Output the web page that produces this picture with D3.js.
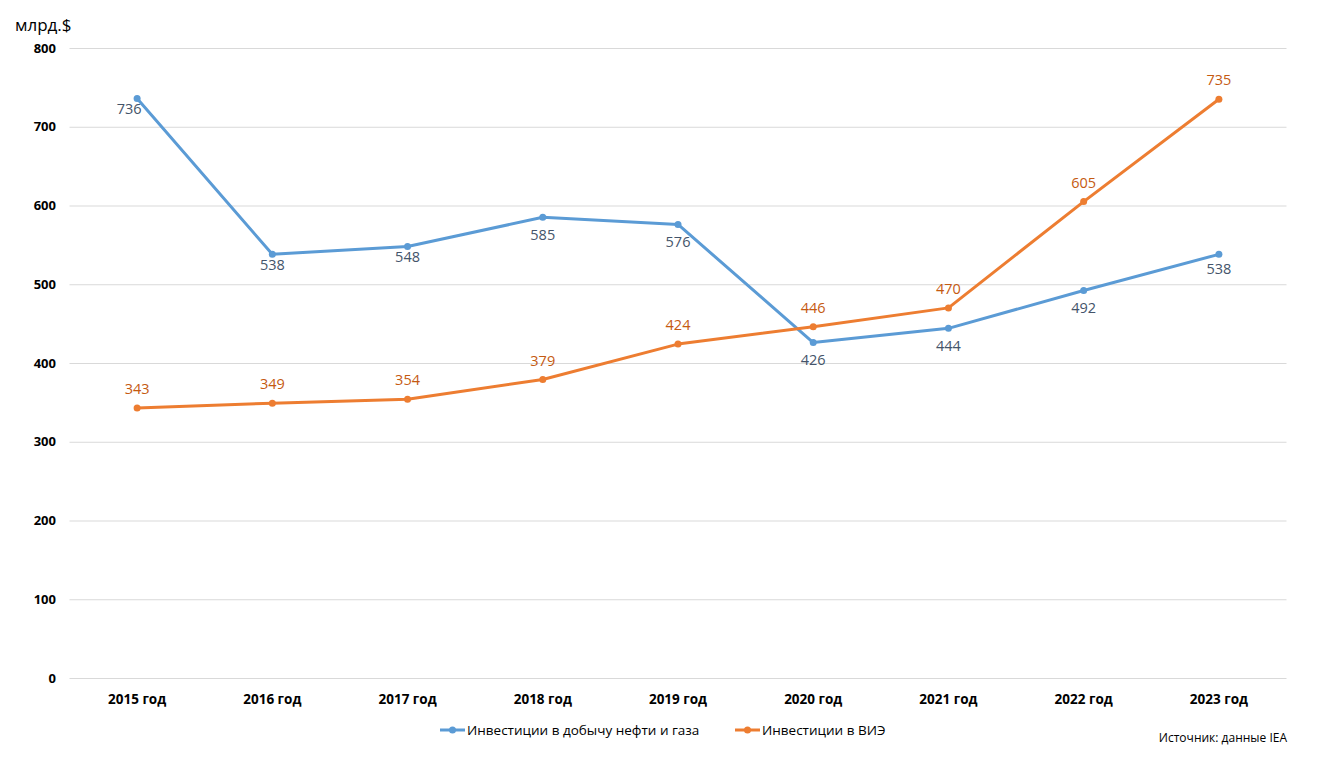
<!DOCTYPE html>
<html><head><meta charset="utf-8">
<script src="https://cdn.jsdelivr.net/npm/d3@7"></script>
<style>body{margin:0;background:#fff}svg{display:block}text{font-family:"Open Sans","Noto Sans",sans-serif}</style>
</head><body><svg id="c" width="1325" height="765"></svg>
<script>
const categories = ["2015 год","2016 год","2017 год","2018 год","2019 год","2020 год","2021 год","2022 год","2023 год"];
const oilGas = [736,538,548,585,576,426,444,492,538];
const renewables = [343,349,354,379,424,446,470,605,735];
const yTicks = [0,100,200,300,400,500,600,700,800];
const seriesNames = ["Инвестиции в добычу нефти и газа","Инвестиции в ВИЭ"];

const svg = d3.select("#c");
const x = d3.scaleBand().domain(categories).range([69.5,1286.5]);
const y = d3.scaleLinear().domain([0,800]).range([678,48]);

// grid
svg.append("g").selectAll("line").data(yTicks).join("line")
  .attr("x1",69.5).attr("x2",1286.5).attr("y1",d=>y(d)+0.5).attr("y2",d=>y(d)+0.5)
  .attr("stroke","#d9d9d9").attr("stroke-width",1);

// y labels
svg.append("g").selectAll("text").data(yTicks).join("text")
  .attr("x",56).attr("y",d=>y(d)).attr("dy","0.35em").attr("text-anchor","end")
  .attr("font-size",13).attr("font-weight","bold").attr("fill","#000").text(d=>d);

// x labels
svg.append("g").selectAll("text").data(categories).join("text")
  .attr("x",d=>x(d)+x.bandwidth()/2).attr("y",699).attr("dy","0.35em").attr("text-anchor","middle")
  .attr("font-size",13.5).attr("font-weight","bold").attr("fill","#000").text(d=>d);

svg.append("text").attr("x",15).attr("y",25).attr("dy","0.35em").attr("font-size",17).attr("fill","#000").text("млрд.$");

const cx = i => x(categories[i]) + x.bandwidth()/2;
const series = [
  {vals: oilGas, color:"#5b9bd5", label:"#44546a", pos:"below"},
  {vals: renewables, color:"#ed7d31", label:"#c55a11", pos:"above"}
];
const belowOffset = i => i<=2 ? 10.5 : (i===8 ? 15 : 17.5);
const line = d3.line().x((d,i)=>cx(i)).y(d=>y(d));
series.forEach(s=>{
  svg.append("path").datum(s.vals).attr("d",line).attr("fill","none")
    .attr("stroke",s.color).attr("stroke-width",3).attr("stroke-linejoin","round").attr("stroke-linecap","round");
  svg.append("g").selectAll("circle").data(s.vals).join("circle")
    .attr("cx",(d,i)=>cx(i)).attr("cy",d=>y(d)).attr("r",3.5).attr("fill",s.color);
  svg.append("g").selectAll("text").data(s.vals).join("text")
    .attr("x",(d,i)=>cx(i) - (s.pos==="below" && i===0 ? 8 : 0))
    .attr("y",(d,i)=>y(d) + (s.pos==="below" ? belowOffset(i) : -19)).attr("dy","0.35em")
    .attr("text-anchor","middle").attr("font-size",14.5).attr("fill",s.label).text(d=>d);
});

// legend
const leg = [{x:440,color:"#5b9bd5",name:seriesNames[0]},{x:735,color:"#ed7d31",name:seriesNames[1]}];
leg.forEach(l=>{
  svg.append("line").attr("x1",l.x).attr("x2",l.x+25).attr("y1",730).attr("y2",730).attr("stroke",l.color).attr("stroke-width",3);
  svg.append("circle").attr("cx",l.x+12.5).attr("cy",730).attr("r",3.5).attr("fill",l.color);
  svg.append("text").attr("x",l.x+27).attr("y",730).attr("dy","0.35em").attr("font-size",13.5).attr("fill","#000").text(l.name);
});
svg.append("text").attr("x",1287).attr("y",738).attr("dy","0.35em").attr("text-anchor","end").attr("font-size",12).attr("fill","#000").text("Источник: данные IEA");
</script></body></html>
